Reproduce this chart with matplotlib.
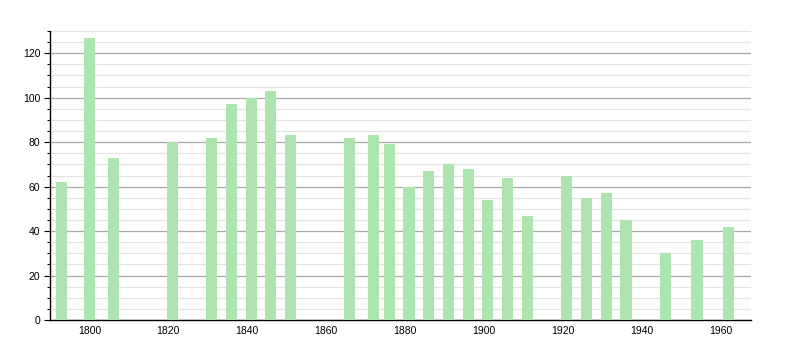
import matplotlib
matplotlib.use('Agg')
import matplotlib.pyplot as plt
from matplotlib.ticker import MultipleLocator

# census years and population
years = [1793, 1800, 1806, 1821, 1831, 1836, 1841, 1846, 1851, 1866, 1872, 1876,
         1881, 1886, 1891, 1896, 1901, 1906, 1911, 1921, 1926, 1931, 1936, 1946,
         1954, 1962]
population = [62, 127, 73, 80, 82, 97, 100, 103, 83, 82, 83, 79,
              60, 67, 70, 68, 54, 64, 47, 65, 55, 57, 45, 30,
              36, 42]
x_ticks = [1800, 1820, 1840, 1860, 1880, 1900, 1920, 1940, 1960]
y_ticks = [0, 20, 40, 60, 80, 100, 120]

plt.rcParams['font.family'] = ['Liberation Sans', 'DejaVu Sans']

fig = plt.figure(figsize=(8, 3.5), dpi=100)
ax = fig.add_axes([0.0625, 0.0857, 0.8763, 0.8257])

ax.bar(years, population, width=2.8, color='#aee4ae', zorder=3)

ax.set_xlim(1790.0, 1967.7)
ax.set_ylim(0, 130)
ax.set_xticks(x_ticks)
ax.set_yticks(y_ticks)
ax.yaxis.set_minor_locator(MultipleLocator(5))

ax.grid(axis='y', which='major', color='#aaaaaa', linewidth=0.9, zorder=1)
ax.grid(axis='y', which='minor', color='#e4e4e4', linewidth=0.9, zorder=0)

for s in ['top', 'right']:
    ax.spines[s].set_visible(False)
ax.spines['left'].set_linewidth(1.0)
ax.spines['bottom'].set_linewidth(1.0)

ax.tick_params(axis='y', which='major', length=4, width=0.8, labelsize=7.5, pad=3)
ax.tick_params(axis='y', which='minor', length=2.5, width=0.8)
ax.tick_params(axis='x', which='major', length=0, labelsize=7.5, pad=4)

fig.savefig('out.png', dpi=100)
